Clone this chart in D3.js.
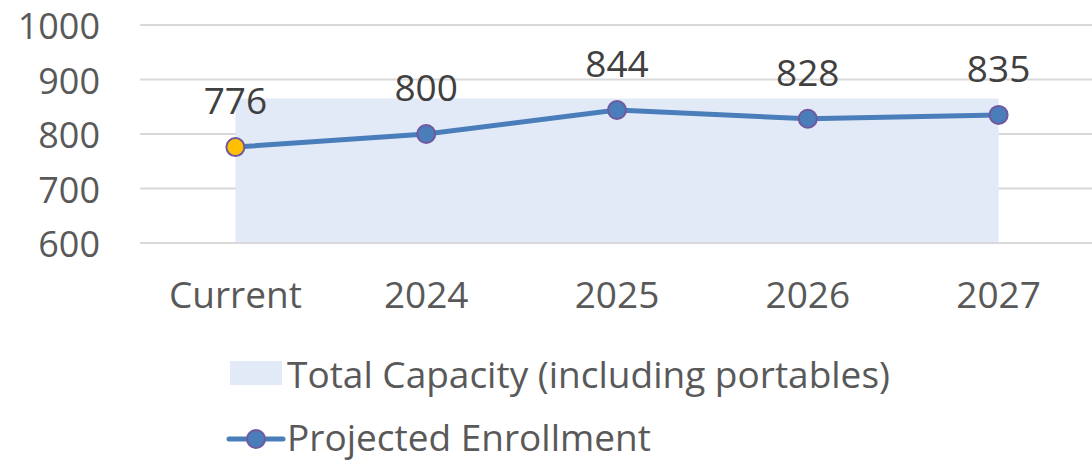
<!DOCTYPE html>
<html>
<head>
<meta charset="utf-8">
<script src="https://cdn.jsdelivr.net/npm/d3@7"></script>
<style>
  body { margin: 0; background: #fff; }
  text { font-family: "Open Sans", "Noto Sans", sans-serif; }
</style>
</head>
<body>
<div id="chart"></div>
<script>
// chart data
const categories = ["Current", "2024", "2025", "2026", "2027"];
const enrollment = [776, 800, 844, 828, 835];
const capacity = [865, 865, 865, 865, 865];
const yTicks = [600, 700, 800, 900, 1000];

const svgWidth = 1092, svgHeight = 462;
const margin = { top: 25, right: -2, bottom: 219, left: 140 };
const width = svgWidth - margin.left - margin.right;
const height = svgHeight - margin.top - margin.bottom;
const fontSize = 37;

const svg = d3.select("#chart").append("svg")
    .attr("width", svgWidth)
    .attr("height", svgHeight);

const g = svg.append("g")
    .attr("transform", `translate(${margin.left}, ${margin.top})`);

// scales
const x = d3.scaleBand().domain(categories).range([0, width]);
const y = d3.scaleLinear().domain([600, 1000]).range([height, 0]);
const cx = d => x(d) + x.bandwidth() / 2;

// gridlines
g.selectAll("line.grid")
    .data(yTicks)
    .enter().append("line")
    .attr("x1", 0).attr("x2", width)
    .attr("y1", d => y(d)).attr("y2", d => y(d))
    .attr("stroke", "#d9d9d9")
    .attr("stroke-width", 2);

// capacity area (from first to last category center)
const area = d3.area()
    .x((d, i) => cx(categories[i]))
    .y0(y(600))
    .y1(d => y(d));
g.append("path")
    .datum(capacity)
    .attr("d", area)
    .attr("fill", "#e3eaf7");

// redraw bottom grid line on top of area
g.append("line")
    .attr("x1", 0).attr("x2", width)
    .attr("y1", y(600)).attr("y2", y(600))
    .attr("stroke", "#d9d9d9").attr("stroke-width", 2);

// y axis labels
const yAxis = d3.axisLeft(y).tickValues(yTicks).tickFormat(d3.format("d"))
    .tickSize(0).tickPadding(40);
g.append("g").call(yAxis)
    .call(s => s.select(".domain").remove())
    .selectAll("text")
    .attr("font-size", 36)
    .attr("fill", "#595959")
    .attr("dy", "0.38em");

// x axis labels
const xAxis = d3.axisBottom(x).tickSize(0).tickPadding(39);
g.append("g").attr("transform", `translate(0, ${height})`).call(xAxis)
    .call(s => s.select(".domain").remove())
    .selectAll("text")
    .attr("font-size", fontSize)
    .attr("fill", "#595959");

// enrollment line
const line = d3.line()
    .x((d, i) => cx(categories[i]))
    .y(d => y(d));
g.append("path")
    .datum(enrollment)
    .attr("d", line)
    .attr("fill", "none")
    .attr("stroke", "#4a7ebb")
    .attr("stroke-width", 5);

g.selectAll("circle.pt")
    .data(enrollment)
    .enter().append("circle")
    .attr("cx", (d, i) => cx(categories[i]))
    .attr("cy", d => y(d))
    .attr("r", 9)
    .attr("fill", (d, i) => i === 0 ? "#ffc000" : "#4a7ebb")
    .attr("stroke", "#71589f")
    .attr("stroke-width", 2);

// data labels
g.selectAll("text.lbl")
    .data(enrollment)
    .enter().append("text")
    .attr("x", (d, i) => cx(categories[i]))
    .attr("y", d => y(d) - 33)
    .attr("text-anchor", "middle")
    .attr("font-size", fontSize)
    .attr("fill", "#404040")
    .text(d => d);

// legend
const legend = svg.append("g");
legend.append("rect")
    .attr("x", 230).attr("y", 361)
    .attr("width", 52).attr("height", 24)
    .attr("fill", "#e3eaf7");
legend.append("text")
    .attr("x", 287).attr("y", 388)
    .attr("font-size", fontSize)
    .attr("fill", "#595959")
    .text("Total Capacity (including portables)");

legend.append("line")
    .attr("x1", 229).attr("x2", 283)
    .attr("y1", 439).attr("y2", 439)
    .attr("stroke", "#4a7ebb").attr("stroke-width", 5)
    .attr("stroke-linecap", "round");
legend.append("circle")
    .attr("cx", 256).attr("cy", 439).attr("r", 9)
    .attr("fill", "#4a7ebb")
    .attr("stroke", "#71589f").attr("stroke-width", 2);
legend.append("text")
    .attr("x", 287).attr("y", 451)
    .attr("font-size", fontSize)
    .attr("fill", "#595959")
    .text("Projected Enrollment");
</script>
</body>
</html>
